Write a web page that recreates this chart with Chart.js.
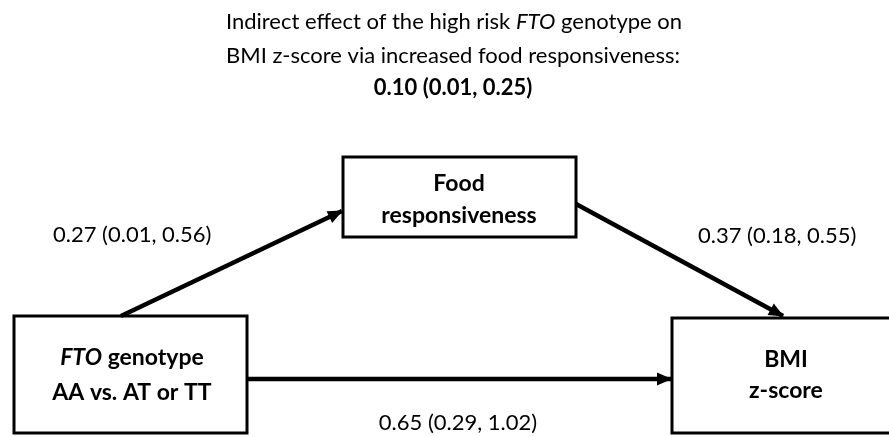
<!DOCTYPE html>
<html>
<head>
<meta charset="utf-8">
<script src="https://cdn.jsdelivr.net/npm/chart.js@4.4.1/dist/chart.umd.min.js"></script>
<style>
  html, body { margin: 0; padding: 0; background: #fff; }
  #wrap { width: 889px; height: 437px; position: relative; }
</style>
</head>
<body>
<div id="wrap"><canvas id="diagram"></canvas></div>
<script>
// values
const titleLines = ['Indirect effect of the high risk *FTO* genotype on', 'BMI z-score via increased food responsiveness:'];
const indirectEffect = [0.10, 0.01, 0.25];

const nodeIds = ['fto', 'food', 'bmi'];
const nodeLabels = [['*FTO* genotype', 'AA vs. AT or TT'], ['Food', 'responsiveness'], ['BMI', 'z-score']];

const pathFrom = ['fto', 'food', 'fto'];
const pathTo = ['food', 'bmi', 'bmi'];
const pathEstimate = [0.27, 0.37, 0.65];
const pathLower = [0.01, 0.18, 0.29];
const pathUpper = [0.56, 0.55, 1.02];

(function () {
    const FONT = 'Lato, "Open Sans", sans-serif';
    const SIZE = 22, BOLD_SIZE = 23;
    const fmt = v => v.toFixed(2);
    const ci = i => fmt(pathEstimate[i]) + ' (' + fmt(pathLower[i]) + ', ' + fmt(pathUpper[i]) + ')';

    // diagram layout, in axis units
    const boxes = {
        fto:  { x0: 14,  x1: 247, y0: 316, y1: 433, cx: 132, lines: [365, 400] },
        food: { x0: 343, x1: 576, y0: 157, y1: 237, cx: 459, lines: [191, 223] },
        bmi:  { x0: 672, x1: 893, y0: 318, y1: 433, cx: 786, lines: [367, 398] }
    };
    const anchors = [
        [{ x: 121, y: 316 }, { x: 342, y: 211 }],
        [{ x: 576, y: 204 }, { x: 783, y: 316 }],
        [{ x: 247, y: 379 }, { x: 671, y: 379 }]
    ];
    const labelPos = [
        { x: 53, y: 242, align: 'left' },
        { x: 698, y: 243, align: 'left' },
        { x: 458, y: 430, align: 'center' }
    ];

    // draws "*italic* normal" strings on the alphabetic baseline
    function richText(c, str, x, y, size, weight, align) {
        const parts = str.split('*').map((t, i) => ({ t, italic: i % 2 === 1 })).filter(p => p.t);
        const fontOf = p => (p.italic ? 'italic ' : '') + weight + ' ' + size + 'px ' + FONT;
        let total = 0;
        parts.forEach(p => { c.font = fontOf(p); p.w = c.measureText(p.t).width; total += p.w; });
        let cx = align === 'center' ? x - total / 2 : x;
        c.textAlign = 'left';
        c.textBaseline = 'alphabetic';
        parts.forEach(p => { c.font = fontOf(p); c.fillText(p.t, cx, y); cx += p.w; });
    }

    const diagramPlugin = {
        id: 'diagram',
        afterDatasetsDraw(chart) {
            const c = chart.ctx;
            const xs = chart.scales.x, ys = chart.scales.y;
            c.save();
            c.fillStyle = '#000';
            c.strokeStyle = '#000';

            // title
            richText(c, titleLines[0], xs.getPixelForValue(454), ys.getPixelForValue(29), SIZE, 'normal', 'center');
            richText(c, titleLines[1], xs.getPixelForValue(453), ys.getPixelForValue(63), SIZE, 'normal', 'center');
            const ind = fmt(indirectEffect[0]) + ' (' + fmt(indirectEffect[1]) + ', ' + fmt(indirectEffect[2]) + ')';
            richText(c, ind, xs.getPixelForValue(453), ys.getPixelForValue(95), SIZE, 'bold', 'center');

            // boxes
            nodeIds.forEach((id, i) => {
                const b = boxes[id];
                const px0 = xs.getPixelForValue(b.x0), px1 = xs.getPixelForValue(b.x1);
                const py0 = ys.getPixelForValue(b.y0), py1 = ys.getPixelForValue(b.y1);
                c.lineWidth = 3;
                c.strokeRect(px0, py0, px1 - px0, py1 - py0);
                const cx = xs.getPixelForValue(b.cx);
                richText(c, nodeLabels[i][0], cx, ys.getPixelForValue(b.lines[0]), BOLD_SIZE, 'bold', 'center');
                richText(c, nodeLabels[i][1], cx, ys.getPixelForValue(b.lines[1]), BOLD_SIZE, 'bold', 'center');
            });

            // arrowheads
            chart.data.datasets.forEach((ds, i) => {
                const meta = chart.getDatasetMeta(i);
                const p0 = meta.data[0], p1 = meta.data[1];
                const ang = Math.atan2(p1.y - p0.y, p1.x - p0.x);
                const L = 14, W = 6.5;
                c.save();
                c.translate(p1.x, p1.y);
                c.rotate(ang);
                c.beginPath();
                c.moveTo(1, 0);
                c.lineTo(-L, -W);
                c.lineTo(-L, W);
                c.closePath();
                c.fill();
                c.restore();
            });

            // path coefficients
            labelPos.forEach((p, i) => {
                richText(c, ci(i), xs.getPixelForValue(p.x), ys.getPixelForValue(p.y), SIZE, 'normal', p.align);
            });
            c.restore();
        }
    };

    const datasets = pathFrom.map((f, i) => ({
        label: f + ' -> ' + pathTo[i],
        data: anchors[i],
        showLine: true,
        borderColor: '#000',
        borderWidth: 4.5,
        pointRadius: 0,
        pointHoverRadius: 0,
        fill: false
    }));

    new Chart(document.getElementById('diagram').getContext('2d'), {
        type: 'scatter',
        data: { datasets },
        options: {
            responsive: true,
            maintainAspectRatio: false,
            animation: false,
            layout: { padding: 0 },
            plugins: { legend: { display: false }, tooltip: { enabled: false }, title: { display: false } },
            scales: {
                x: { type: 'linear', min: 0, max: 889, display: false },
                y: { type: 'linear', min: 0, max: 437, reverse: true, display: false }
            }
        },
        plugins: [diagramPlugin]
    });
})()
</script>
</body>
</html>
